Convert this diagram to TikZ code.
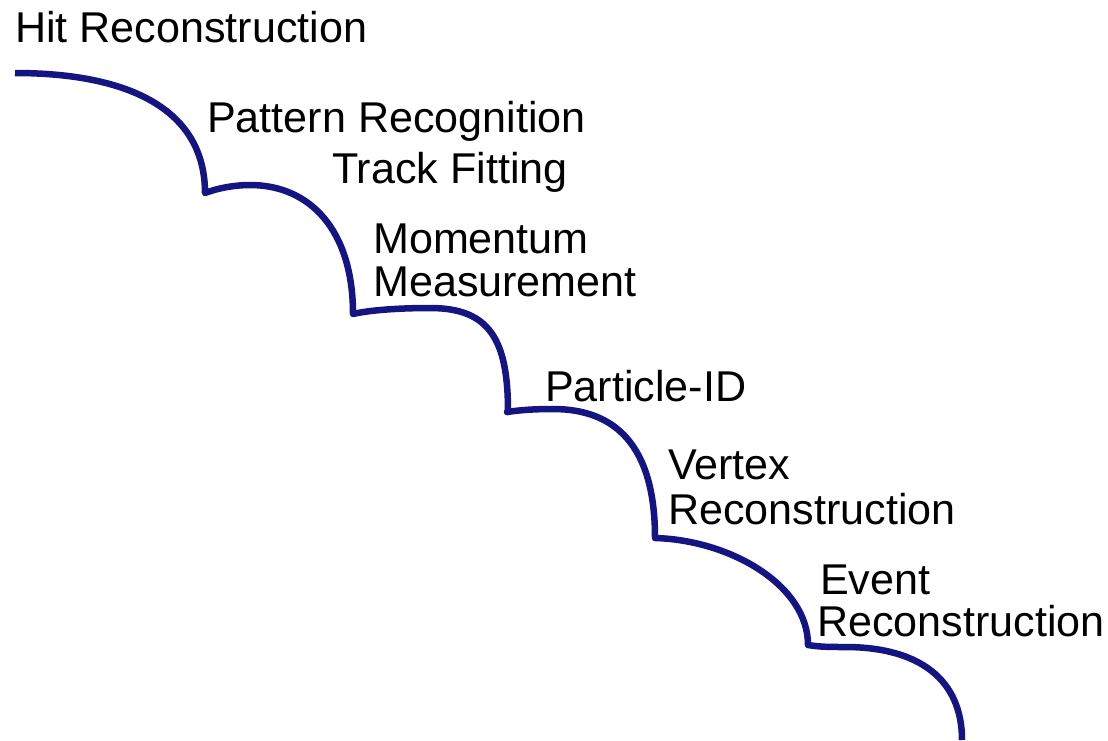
\documentclass[tikz,border=0pt]{standalone}
\usepackage{fontspec}
\setmainfont{Liberation Sans}
\definecolor{stair}{RGB}{20,20,130}
\begin{document}
\begin{tikzpicture}[x=1pt,y=-1pt,
  lbl/.style={anchor=base west,inner sep=0pt,font=\fontsize{43.1}{45}\selectfont},
  stairline/.style={draw=stair,line width=6.5pt,line join=round}]
\useasboundingbox (0,0) rectangle (1108,740);
% staircase curve
\coordinate (s0) at (15,73);
\coordinate (c1) at (205,193);
\coordinate (c2) at (353,314);
\coordinate (c3) at (507,412);
\coordinate (c4) at (655,538);
\coordinate (c5) at (808,645);
\coordinate (e) at (962,740);
\path[stairline]
  (s0) .. controls (130,73) and (205,110) .. (c1)
  .. controls (218,188) and (235,185) .. (250,185)
  .. controls (310,185) and (353,230) .. (c2)
  .. controls (370,310) and (400,308) .. (430,308)
  .. controls (490,308) and (508,340) .. (508,412)
  -- (c3)
  .. controls (520,410) and (535,409) .. (553,409)
  .. controls (615,409) and (655,445) .. (c4)
  .. controls (730,540) and (808,585) .. (c5)
  .. controls (820,647) and (830,647) .. (845,647)
  .. controls (920,647) and (962,680) .. (e);
% labels
\node[lbl] (hit) at (15,42) {Hit Reconstruction};
\node[lbl] (pat) at (207,132) {Pattern Recognition};
\node[lbl] (trk) at (332,183) {Track Fitting};
\node[lbl] (mom1) at (373,253) {Momentum};
\node[lbl] (mom2) at (373,296) {Measurement};
\node[lbl] (pid) at (545,401) {Particle-ID};
\node[lbl] (vtx1) at (668,479) {Vertex};
\node[lbl] (vtx2) at (668,524) {Reconstruction};
\node[lbl] (evt1) at (820,594) {Event};
\node[lbl] (evt2) at (817,636) {Reconstruction};
\end{tikzpicture}
\end{document}
